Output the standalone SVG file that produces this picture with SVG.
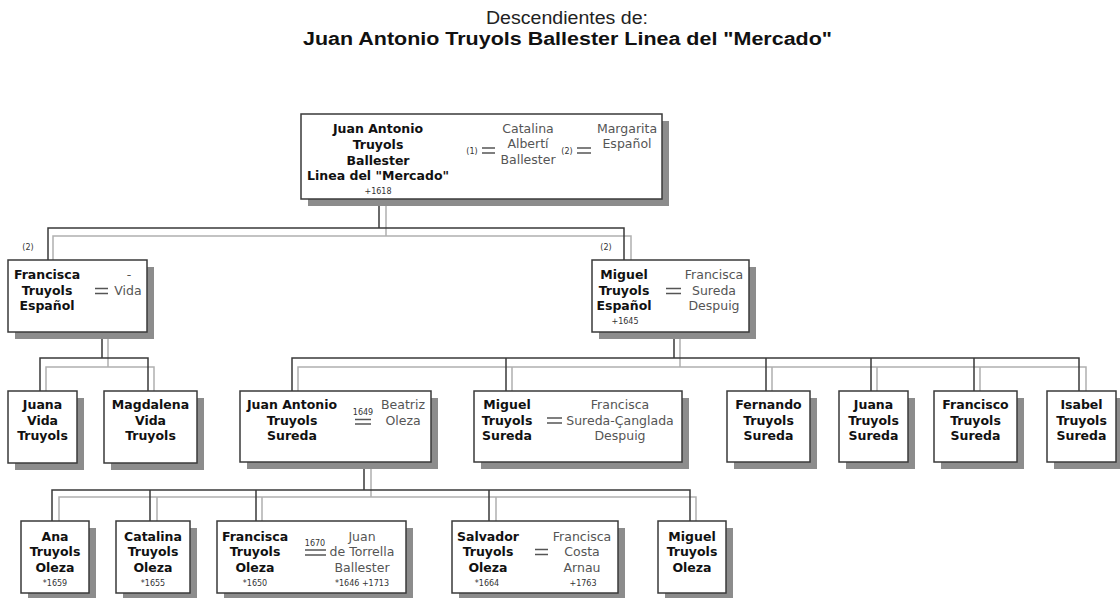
<svg xmlns="http://www.w3.org/2000/svg" width="1120" height="598" viewBox="0 0 1120 598">
<style>
.sh{fill:#8c8c8c}
.bx{fill:#fff;stroke:#3a3a3a;stroke-width:1.5}
.n{font-family:"DejaVu Sans",Verdana,sans-serif;font-size:12.5px;font-weight:bold;fill:#111;text-anchor:middle}
.s{font-family:"DejaVu Sans",Verdana,sans-serif;font-size:12.5px;fill:#555;text-anchor:middle}
.d{font-family:"DejaVu Sans",Verdana,sans-serif;font-size:8px;fill:#333;text-anchor:middle}
.eq{stroke:#555;stroke-width:1.3}
.dk{fill:none;stroke:#3a3a3a;stroke-width:1.5}
.lt{fill:none;stroke:#b0b0b0;stroke-width:1.5}
.t1{font-family:"Liberation Sans",Arial,sans-serif;font-size:18px;fill:#222;text-anchor:middle}
.t2{font-family:"Liberation Sans",Arial,sans-serif;font-size:18px;font-weight:bold;fill:#111;text-anchor:middle}
</style>
<rect width="1120" height="598" fill="#fff"/>
<g id="title">
<text class="t1" x="567" y="24" textLength="162" lengthAdjust="spacingAndGlyphs">Descendientes de:</text>
<text class="t2" x="567.5" y="45" textLength="529" lengthAdjust="spacingAndGlyphs">Juan Antonio Truyols Ballester Linea del "Mercado"</text>
</g>
<g id="connectors">
<path class="lt" d="M386,206V236M53,260V236H631V260"/>
<path class="dk" d="M379,199V228M48,260V228H624V260"/>
<path class="lt" d="M108,339V367M46,391V367H154V391"/>
<path class="dk" d="M102,332V358M40,391V358H148V391"/>
<path class="lt" d="M680,339V367M298,391V367H1086V391M512,367V391M772,367V391M877,367V391M980,367V391"/>
<path class="dk" d="M674,332V358M292,391V358H1079V391M506,358V391M766,358V391M871,358V391M974,358V391"/>
<path class="lt" d="M371,469V497M59,521V497H696V521M157,497V521M262,497V521M496,497V521"/>
<path class="dk" d="M364,462V490M52,521V490H690V521M150,490V521M256,490V521M489,490V521"/>
<text class="d" x="28" y="250">(2)</text>
<text class="d" x="606" y="250">(2)</text>
</g>
<g id="n_root">
<rect class="sh" x="308" y="121" width="361" height="85"/>
<rect class="bx" x="301" y="114" width="361" height="85"/>
<text class="n" x="378" y="133">Juan Antonio</text>
<text class="n" x="378" y="149">Truyols</text>
<text class="n" x="378" y="165">Ballester</text>
<text class="n" x="378" y="180">Linea del "Mercado"</text>
<text class="d" x="378" y="194">+1618</text>
<text class="d" x="472" y="154">(1)</text>
<path class="eq" d="M482,148H495M482,153H495"/>
<text class="s" x="528" y="133">Catalina</text>
<text class="s" x="528" y="148">Albertí</text>
<text class="s" x="528" y="164">Ballester</text>
<text class="d" x="567" y="154">(2)</text>
<path class="eq" d="M577,148H591M577,153H591"/>
<text class="s" x="627" y="133">Margarita</text>
<text class="s" x="627" y="148">Español</text>
</g>
<g id="n_francisca_te">
<rect class="sh" x="15" y="267" width="139" height="72"/>
<rect class="bx" x="8" y="260" width="139" height="72"/>
<text class="n" x="47" y="279">Francisca</text>
<text class="n" x="47" y="295">Truyols</text>
<text class="n" x="47" y="310">Español</text>
<path class="eq" d="M95,288.5H108M95,293.5H108"/>
<text class="s" x="129" y="279">-</text>
<text class="s" x="128" y="295">Vida</text>
</g>
<g id="n_miguel_te">
<rect class="sh" x="599" y="267" width="157" height="72"/>
<rect class="bx" x="592" y="260" width="157" height="72"/>
<text class="n" x="624" y="279">Miguel</text>
<text class="n" x="624" y="295">Truyols</text>
<text class="n" x="624" y="310">Español</text>
<text class="d" x="625" y="324">+1645</text>
<path class="eq" d="M666,288.5H681M666,293.5H681"/>
<text class="s" x="714" y="279">Francisca</text>
<text class="s" x="714" y="295">Sureda</text>
<text class="s" x="714" y="310">Despuig</text>
</g>
<g id="n_juana_vt">
<rect class="sh" x="15" y="398" width="69" height="72"/>
<rect class="bx" x="8" y="391" width="69" height="72"/>
<text class="n" x="42.5" y="409">Juana</text>
<text class="n" x="42.5" y="425">Vida</text>
<text class="n" x="42.5" y="440">Truyols</text>
</g>
<g id="n_magdalena_vt">
<rect class="sh" x="111" y="398" width="93" height="72"/>
<rect class="bx" x="104" y="391" width="93" height="72"/>
<text class="n" x="150.5" y="409">Magdalena</text>
<text class="n" x="150.5" y="425">Vida</text>
<text class="n" x="150.5" y="440">Truyols</text>
</g>
<g id="n_juanantonio_ts">
<rect class="sh" x="247" y="398" width="191" height="71"/>
<rect class="bx" x="240" y="391" width="191" height="71"/>
<text class="n" x="292" y="409">Juan Antonio</text>
<text class="n" x="292" y="425">Truyols</text>
<text class="n" x="292" y="440">Sureda</text>
<text class="d" x="363" y="415">1649</text>
<path class="eq" d="M355,419.5H371M355,424H371"/>
<text class="s" x="403" y="409">Beatriz</text>
<text class="s" x="403" y="425">Oleza</text>
</g>
<g id="n_miguel_ts">
<rect class="sh" x="481" y="398" width="208" height="71"/>
<rect class="bx" x="474" y="391" width="208" height="71"/>
<text class="n" x="507" y="409">Miguel</text>
<text class="n" x="507" y="425">Truyols</text>
<text class="n" x="507" y="440">Sureda</text>
<path class="eq" d="M547,418H562M547,423H562"/>
<text class="s" x="620" y="409">Francisca</text>
<text class="s" x="620" y="425">Sureda-Çanglada</text>
<text class="s" x="620" y="440">Despuig</text>
</g>
<g id="n_fernando_ts">
<rect class="sh" x="734" y="398" width="83" height="71"/>
<rect class="bx" x="727" y="391" width="83" height="71"/>
<text class="n" x="768.5" y="409">Fernando</text>
<text class="n" x="768.5" y="425">Truyols</text>
<text class="n" x="768.5" y="440">Sureda</text>
</g>
<g id="n_juana_ts">
<rect class="sh" x="846" y="398" width="69" height="71"/>
<rect class="bx" x="839" y="391" width="69" height="71"/>
<text class="n" x="873.5" y="409">Juana</text>
<text class="n" x="873.5" y="425">Truyols</text>
<text class="n" x="873.5" y="440">Sureda</text>
</g>
<g id="n_francisco_ts">
<rect class="sh" x="941" y="398" width="83" height="71"/>
<rect class="bx" x="934" y="391" width="83" height="71"/>
<text class="n" x="975.5" y="409">Francisco</text>
<text class="n" x="975.5" y="425">Truyols</text>
<text class="n" x="975.5" y="440">Sureda</text>
</g>
<g id="n_isabel_ts">
<rect class="sh" x="1054" y="398" width="69" height="71"/>
<rect class="bx" x="1047" y="391" width="69" height="71"/>
<text class="n" x="1081.5" y="409">Isabel</text>
<text class="n" x="1081.5" y="425">Truyols</text>
<text class="n" x="1081.5" y="440">Sureda</text>
</g>
<g id="n_ana_to">
<rect class="sh" x="28" y="528" width="68" height="72"/>
<rect class="bx" x="21" y="521" width="68" height="72"/>
<text class="n" x="55" y="541">Ana</text>
<text class="n" x="55" y="556">Truyols</text>
<text class="n" x="55" y="572">Oleza</text>
<text class="d" x="55" y="586">*1659</text>
</g>
<g id="n_catalina_to">
<rect class="sh" x="123" y="528" width="74" height="72"/>
<rect class="bx" x="116" y="521" width="74" height="72"/>
<text class="n" x="153" y="541">Catalina</text>
<text class="n" x="153" y="556">Truyols</text>
<text class="n" x="153" y="572">Oleza</text>
<text class="d" x="153" y="586">*1655</text>
</g>
<g id="n_francisca_to">
<rect class="sh" x="224" y="528" width="189" height="72"/>
<rect class="bx" x="217" y="521" width="189" height="72"/>
<text class="n" x="255" y="541">Francisca</text>
<text class="n" x="255" y="556">Truyols</text>
<text class="n" x="255" y="572">Oleza</text>
<text class="d" x="255" y="586">*1650</text>
<text class="d" x="315" y="546">1670</text>
<path class="eq" d="M305,550H326M305,555H326"/>
<text class="s" x="362" y="541">Juan</text>
<text class="s" x="362" y="556">de Torrella</text>
<text class="s" x="362" y="572">Ballester</text>
<text class="d" x="362" y="586">*1646 +1713</text>
</g>
<g id="n_salvador_to">
<rect class="sh" x="459" y="528" width="166" height="72"/>
<rect class="bx" x="452" y="521" width="166" height="72"/>
<text class="n" x="488" y="541">Salvador</text>
<text class="n" x="488" y="556">Truyols</text>
<text class="n" x="488" y="572">Oleza</text>
<text class="d" x="487" y="586">*1664</text>
<path class="eq" d="M535,549.5H548M535,554.5H548"/>
<text class="s" x="582" y="541">Francisca</text>
<text class="s" x="582" y="556">Costa</text>
<text class="s" x="582" y="572">Arnau</text>
<text class="d" x="583" y="586">+1763</text>
</g>
<g id="n_miguel_to">
<rect class="sh" x="665" y="528" width="68" height="72"/>
<rect class="bx" x="658" y="521" width="68" height="72"/>
<text class="n" x="692" y="541">Miguel</text>
<text class="n" x="692" y="556">Truyols</text>
<text class="n" x="692" y="572">Oleza</text>
</g>
</svg>
